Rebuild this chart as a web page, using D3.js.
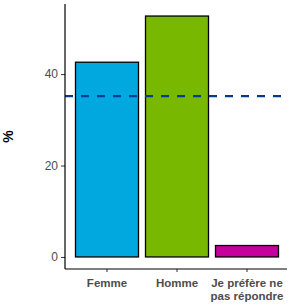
<!DOCTYPE html>
<html><head><meta charset="utf-8">
<script src="https://cdn.jsdelivr.net/npm/d3@7"></script>
<style>body{margin:0;background:#fff}svg{display:block}</style>
</head><body>
<svg id="c" width="293" height="306"></svg>
<script>
const categories = ["Femme", "Homme", "Je préfère ne\npas répondre"];
const values = [42.6, 52.7, 2.5];
const colors = ["#00A8E0", "#78B800", "#C6009A"];
const referenceLine = 35.2;
const yTicks = [0, 20, 40];

(function () {
const svg = d3.select("#c");
const mL = 65, mR = 289, mT = 4, mB = 269;
const vmax = d3.max(values);
const y = d3.scaleLinear().domain([-vmax * 0.05, vmax * 1.05]).range([mB, mT]);
const x = d3.scaleBand().domain(categories).range([mL, mR]).paddingInner(0.1).paddingOuter(0.15);

svg.selectAll("rect.bar").data(values).join("rect")
  .attr("class", "bar")
  .attr("x", (d, i) => x(categories[i]))
  .attr("width", x.bandwidth())
  .attr("y", d => y(d))
  .attr("height", d => y(0) - y(d))
  .attr("fill", (d, i) => colors[i])
  .attr("stroke", "#000").attr("stroke-width", 1.3);

svg.append("line")
  .attr("x1", mL).attr("x2", 282)
  .attr("y1", y(referenceLine)).attr("y2", y(referenceLine))
  .attr("stroke", "#003C8F").attr("stroke-width", 2.2)
  .attr("stroke-dasharray", "8,8");

const ya = svg.append("g").attr("transform", `translate(${mL},0)`)
  .call(d3.axisLeft(y).tickValues(yTicks).tickSize(4).tickPadding(3));
ya.select(".domain").remove();
ya.selectAll("line").attr("stroke", "#333");
ya.selectAll("text").attr("fill", "#4d4d4d").style("font", "12px 'Liberation Sans', Arial, sans-serif");
svg.append("line").attr("x1", mL).attr("x2", mL).attr("y1", mT).attr("y2", mB).attr("stroke", "#000").attr("stroke-width", 1.2);

const xa = svg.append("g").attr("transform", `translate(0,${mB})`)
  .call(d3.axisBottom(x).tickSize(3).tickFormat(""));
xa.select(".domain").remove();
xa.selectAll("line").attr("stroke", "#333");
svg.append("line").attr("x1", mL).attr("x2", 287).attr("y1", mB).attr("y2", mB).attr("stroke", "#000").attr("stroke-width", 1.2);

categories.forEach(c => {
  const lines = c.split("\n");
  const t = svg.append("text").attr("text-anchor", "middle")
    .attr("fill", "#4d4d4d")
    .style("font", "bold 11.5px 'Liberation Sans', Arial, sans-serif");
  lines.forEach((l, j) => t.append("tspan").attr("x", x(c) + x.bandwidth() / 2).attr("y", 287 + j * 13).text(l));
});

svg.append("text").attr("transform", `translate(13,${(mT + mB) / 2}) rotate(-90)`)
  .attr("text-anchor", "middle").attr("fill", "#000")
  .style("font", "bold 14px 'Liberation Sans', Arial, sans-serif").text("%");
})();
</script>
</body></html>
